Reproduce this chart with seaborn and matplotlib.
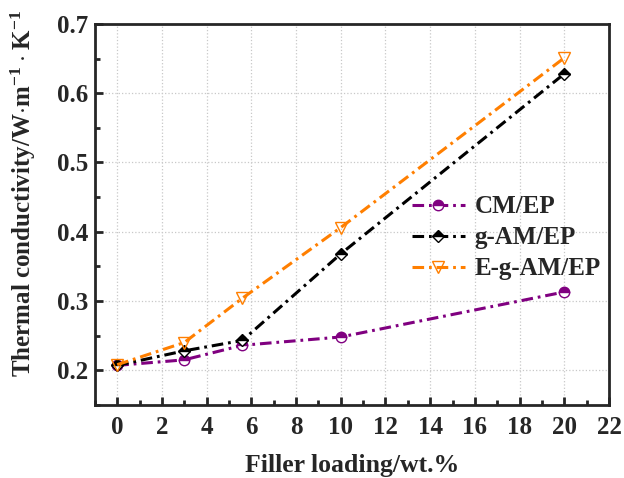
import matplotlib
matplotlib.use("Agg")
import matplotlib.pyplot as plt
import seaborn as sns
import pandas as pd
from matplotlib.ticker import MultipleLocator

# data
loading = [0, 3, 5.6, 10, 20]
cm_ep = [0.207, 0.215, 0.236, 0.248, 0.313]
g_am_ep = [0.207, 0.228, 0.243, 0.368, 0.628]
e_g_am_ep = [0.208, 0.240, 0.304, 0.406, 0.651]
series_names = ["CM/EP", "g-AM/EP", "E-g-AM/EP"]

sns.set_style("ticks")
plt.rcParams["font.family"] = ["Liberation Serif", "DejaVu Serif"]
plt.rcParams["font.weight"] = "bold"
plt.rcParams["mathtext.fontset"] = "custom"
plt.rcParams["mathtext.rm"] = "Liberation Serif:bold"
plt.rcParams["mathtext.default"] = "rm"

df = pd.DataFrame({
    "loading": loading * 3,
    "k": cm_ep + g_am_ep + e_g_am_ep,
    "sample": [n for n in series_names for _ in loading],
})

styles = {
    "CM/EP": dict(color="#800080", marker="o", fillstyle="top"),
    "g-AM/EP": dict(color="black", marker="D", fillstyle="top", markersize=6.5),
    "E-g-AM/EP": dict(color="#ff7f00", marker="v", fillstyle="none", markersize=8),
}

fig, ax = plt.subplots(figsize=(6.24, 4.78), dpi=100)
fig.subplots_adjust(left=0.152, right=0.976, bottom=0.153, top=0.950)

for name in series_names:
    st = styles[name]
    sub = df[df["sample"] == name]
    sns.lineplot(data=sub, x="loading", y="k", ax=ax, label=name,
                 color=st["color"], marker=st["marker"],
                 markersize=st.get("markersize", 7.5),
                 fillstyle=st["fillstyle"], markerfacecolor=st["color"],
                 markerfacecoloralt="white", markeredgecolor=st["color"],
                 markeredgewidth=1.0, linewidth=2.2,
                 linestyle=(0, (3.8, 1.6, 0.9, 1.6)), sort=False)

ax.set_xlim(-1, 22)
ax.set_ylim(0.15, 0.7)
ax.xaxis.set_major_locator(MultipleLocator(2))
ax.xaxis.set_minor_locator(MultipleLocator(1))
ax.yaxis.set_major_locator(MultipleLocator(0.1))
ax.yaxis.set_minor_locator(MultipleLocator(0.05))
ax.tick_params(which="both", direction="in", width=2, labelsize=18)
ax.tick_params(which="major", length=6)
ax.tick_params(axis="x", which="major", pad=8)
ax.tick_params(axis="y", which="major", pad=5)
ax.tick_params(which="minor", length=3.5)
for s in ax.spines.values():
    s.set_linewidth(2)
ax.grid(True, which="major", color="#c8c8c8", linestyle=":", linewidth=0.9)

ax.set_xlabel("Filler loading/wt.%", fontsize=18.5, fontweight="bold")
ax.set_ylabel(r"Thermal conductivity/W$\cdot$m$^{-1}\cdot$K$^{-1}$",
              fontsize=18, fontweight="bold")
ax.xaxis.set_label_coords(0.5, -0.128)
ax.yaxis.set_label_coords(-0.11, 0.555)

ax.legend(loc="upper left", bbox_to_anchor=(0.617, 0.55), frameon=False,
          fontsize=18, handlelength=2.1, handletextpad=0.4,
          labelspacing=0.32, borderaxespad=0, borderpad=0)

fig.savefig("out.png", dpi=100)
